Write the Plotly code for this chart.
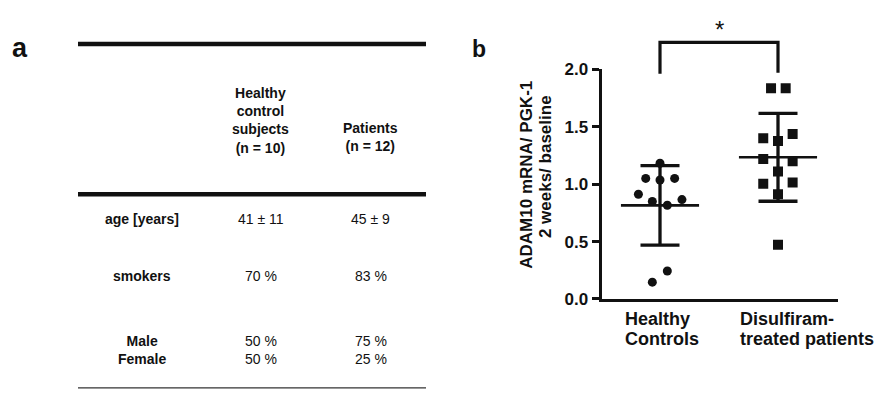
import numpy as np
import plotly.graph_objects as go

W, H = 877, 399

# ---------------- panel a : table ----------------
table_headers = ["Healthy<br>control<br>subjects<br>(n = 10)", "Patients<br>(n = 12)"]
row_labels = ["age [years]", "smokers", "Male<br>Female"]
healthy_values = ["41 ± 11", "70 %", "50 %<br>50 %"]
patient_values = ["45 ± 9", "83 %", "75 %<br>25 %"]

# ---------------- panel b : scatter ----------------
categories = ["Healthy<br>Controls", "Disulfiram-<br>treated patients"]
healthy_adam10 = [1.183, 1.051, 1.037, 1.051, 0.913, 0.850, 0.817, 0.866, 0.244, 0.147]
healthy_jitter = [0.0, -0.121, 0.0, 0.124, -0.183, -0.065, 0.062, 0.186, 0.062, -0.065]
patient_adam10 = [1.836, 1.836, 1.400, 1.376, 1.437, 1.220, 1.200, 1.110, 1.004, 1.015, 0.913, 0.473]
patient_jitter = [-0.059, 0.065, -0.125, 0.0, 0.124, -0.125, 0.124, 0.0, -0.125, 0.124, 0.0, 0.0]
y_ticks = [0.0, 0.5, 1.0, 1.5, 2.0]
y_title = ["ADAM10 mRNA/ PGK-1", "2 weeks/ baseline"]
significance = "*"

FONT = "Liberation Sans, Arial, sans-serif"
INK = "#111111"


def py(p):
    return 1 - p / H


def px(p):
    return p / W


fig = go.Figure()

groups = [
    (1, healthy_adam10, healthy_jitter, "circle", 9),
    (2, patient_adam10, patient_jitter, "square", 10),
]

for pos, vals, jit, sym, size in groups:
    v = np.array(vals)
    m = v.mean()
    sd = v.std(ddof=1)
    # mean line
    fig.add_trace(go.Scatter(x=[pos - 0.331, pos + 0.331], y=[m, m], mode="lines",
                             line=dict(color=INK, width=2.6), hoverinfo="skip"))
    # SD error bar
    fig.add_trace(go.Scatter(x=[pos], y=[m], mode="markers",
                             marker=dict(size=1, color="rgba(0,0,0,0)"),
                             error_y=dict(type="data", array=[sd], visible=True,
                                          width=19.5, thickness=3.3, color=INK),
                             hoverinfo="skip"))
    # points
    fig.add_trace(go.Scatter(x=[pos + j for j in jit], y=vals, mode="markers",
                             marker=dict(symbol=sym, size=size, color=INK,
                                         line=dict(width=0)),
                             hoverinfo="skip"))

x_left_px, x_right_px = 601.5, 838.0
y_top_px, y_bot_px = 63.5, 304.5
unit = 118.0  # px per category step
x0 = 1 - (660 - x_left_px) / unit
x1 = 2 + (x_right_px - 778) / unit

annotations = []
shapes = []

# ---------- table drawing ----------
shapes.append(dict(type="line", xref="paper", yref="paper", x0=px(78), x1=px(426),
                   y0=py(36.8), y1=py(36.8), line=dict(color=INK, width=4.5)))
shapes.append(dict(type="line", xref="paper", yref="paper", x0=px(78), x1=px(426),
                   y0=py(194.5), y1=py(194.5), line=dict(color=INK, width=4.5)))
shapes.append(dict(type="line", xref="paper", yref="paper", x0=px(78), x1=px(426),
                   y0=py(397.8), y1=py(397.8), line=dict(color="#333333", width=1.4)))

col_x = [142, 260.5, 370.5]
header_y = [117.3, 134.5]
for cx, txt, hy in zip(col_x[1:], table_headers, header_y):
    annotations.append(dict(text="<b>" + txt + "</b>", x=px(cx), y=py(hy), xref="paper",
                            yref="paper", xanchor="center", yanchor="middle",
                            showarrow=False, font=dict(family=FONT, size=14, color=INK)))

row_y = [220.7, 280.5, 358.0]
for ry, lab, hv, pv in zip(row_y, row_labels, healthy_values, patient_values):
    annotations.append(dict(text="<b>" + lab + "</b>", x=px(col_x[0]), y=py(ry),
                            xref="paper", yref="paper", xanchor="center", yanchor="middle",
                            showarrow=False, font=dict(family=FONT, size=14, color=INK)))
    for cx, val in zip(col_x[1:], [hv, pv]):
        annotations.append(dict(text=val, x=px(cx), y=py(ry), xref="paper", yref="paper",
                                xanchor="center", yanchor="middle", showarrow=False,
                                font=dict(family=FONT, size=14, color=INK)))

# panel letters
annotations.append(dict(text="<b>a</b>", x=px(20), y=py(40.8), xref="paper", yref="paper",
                        xanchor="center", yanchor="middle", showarrow=False,
                        font=dict(family=FONT, size=27, color=INK)))
annotations.append(dict(text="<b>b</b>", x=px(479), y=py(41.7), xref="paper", yref="paper",
                        xanchor="center", yanchor="middle", showarrow=False,
                        font=dict(family=FONT, size=23, color=INK)))

# y-axis title (two rotated lines)
for tx, cx, cy in zip(y_title, [527, 545], [174, 166]):
    annotations.append(dict(text="<b>" + tx + "</b>", x=px(cx), y=py(cy), xref="paper",
                            yref="paper", xanchor="center", yanchor="middle",
                            textangle=-90, showarrow=False,
                            font=dict(family=FONT, size=17, color=INK)))

# category labels (left aligned lines)
cat_shift = [-37, -40]
line_y = [325, 346]
for i, (cat, sh) in enumerate(zip(categories, cat_shift)):
    for ln, ly in zip(cat.split("<br>"), line_y):
        annotations.append(dict(text="<b>" + ln + "</b>", x=i + 1, xref="x", y=py(ly),
                                yref="paper", xanchor="left", yanchor="middle", xshift=sh,
                                showarrow=False, font=dict(family=FONT, size=18, color=INK)))

# significance bracket
shapes.append(dict(type="path", xref="x", yref="paper",
                   path=f"M 1,{py(68)} L 1,{py(35)} L 2,{py(35)} L 2,{py(67)}",
                   line=dict(color=INK, width=3.2)))
annotations.append(dict(text=significance, x=1.5, xref="x", y=py(22), yref="paper",
                        xanchor="center", yanchor="middle", showarrow=False,
                        font=dict(family=FONT, size=24, color=INK)))

fig.update_layout(
    width=W, height=H,
    margin=dict(l=0, r=0, t=0, b=0),
    paper_bgcolor="white", plot_bgcolor="white",
    showlegend=False,
    xaxis=dict(domain=[px(x_left_px), px(x_right_px)], range=[x0, x1],
               showgrid=False, zeroline=False, showticklabels=False, ticks="",
               showline=True, linewidth=3, linecolor=INK, fixedrange=True),
    yaxis=dict(domain=[py(y_bot_px), py(y_top_px)], range=[0, 2],
               tickvals=y_ticks, ticktext=[f"<b>{t:.1f}</b>" for t in y_ticks],
               ticks="outside", ticklen=7, tickwidth=2.5, tickcolor=INK,
               tickfont=dict(family=FONT, size=17, color=INK),
               showgrid=False, zeroline=False,
               showline=True, linewidth=3, linecolor=INK, fixedrange=True),
    annotations=annotations,
    shapes=shapes,
)

fig.write_html(
    "out.html",
    config={"displayModeBar": False},
    post_script="document.body.style.margin='0';document.documentElement.style.overflow='hidden';",
)
